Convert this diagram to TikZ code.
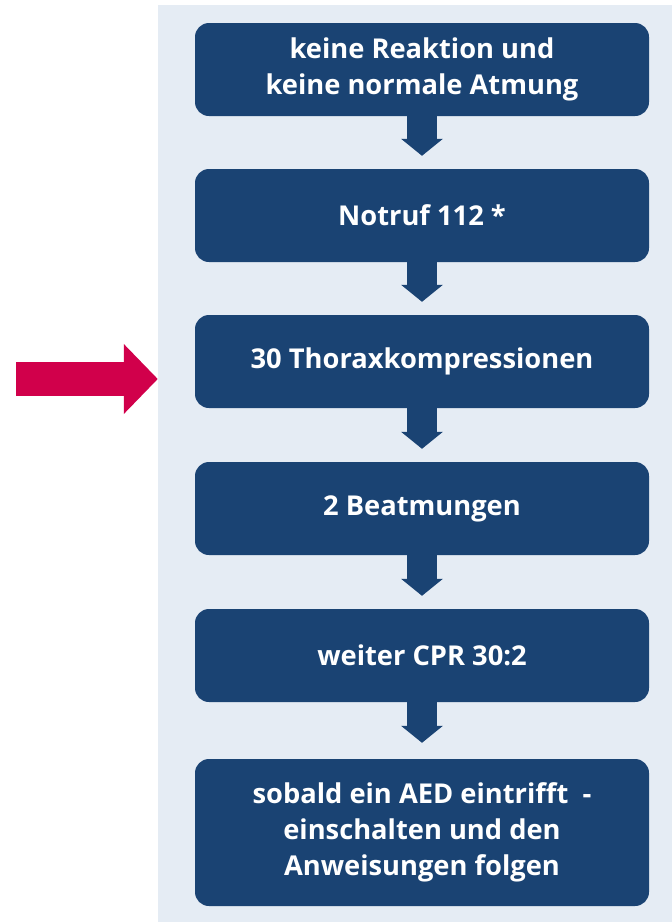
\documentclass[tikz,border=0pt]{standalone}
\usepackage{fontspec}
\setmainfont{Open Sans}
\usetikzlibrary{arrows.meta,positioning}

\definecolor{stepblue}{HTML}{1A4373}
\definecolor{panelgray}{HTML}{E5ECF4}
\definecolor{markred}{HTML}{D1004B}

\begin{document}
\begin{tikzpicture}[x=1pt,y=-1pt,
  stepbox/.style={rectangle,rounded corners=14pt,fill=stepblue,text=white,
    minimum width=454pt,minimum height=93pt,align=center,
    font=\bfseries\fontsize{27.3}{36}\selectfont},
  flow/.style={stepblue,line width=30pt,-{Triangle[width=41pt,length=17pt]},shorten >=13pt}]
\useasboundingbox (0,0) rectangle (672,922);
% Background panel
\fill[panelgray] (158,5) rectangle (672,922);

% Steps
\node[stepbox] (start) at (422,69.5) {keine Reaktion und\\keine normale Atmung};
\node[stepbox] (call) at (422,215.5) {Notruf 112 *};
\node[stepbox] (press) at (422,361.5) {30 Thoraxkompressionen};
\node[stepbox] (breath) at (422,508.5) {2 Beatmungen};
\node[stepbox] (cpr) at (422,655.5) {weiter CPR 30:2};
\node[stepbox,minimum height=147pt] (aed) at (422,832.5) {sobald ein AED eintrifft~~-\\einschalten und den\\Anweisungen folgen};

\draw[flow] (start) -- (call);
\draw[flow] (call) -- (press);
\draw[flow] (press) -- (breath);
\draw[flow] (breath) -- (cpr);
\draw[flow,shorten >=16pt] (cpr) -- (aed);

% Marker arrow
\coordinate (mark) at (16,379);
\draw[markred,line width=34pt,-{Triangle[width=68pt,length=34pt]},shorten >=37pt] (mark) -- (mark -| press.west);
\end{tikzpicture}
\end{document}
